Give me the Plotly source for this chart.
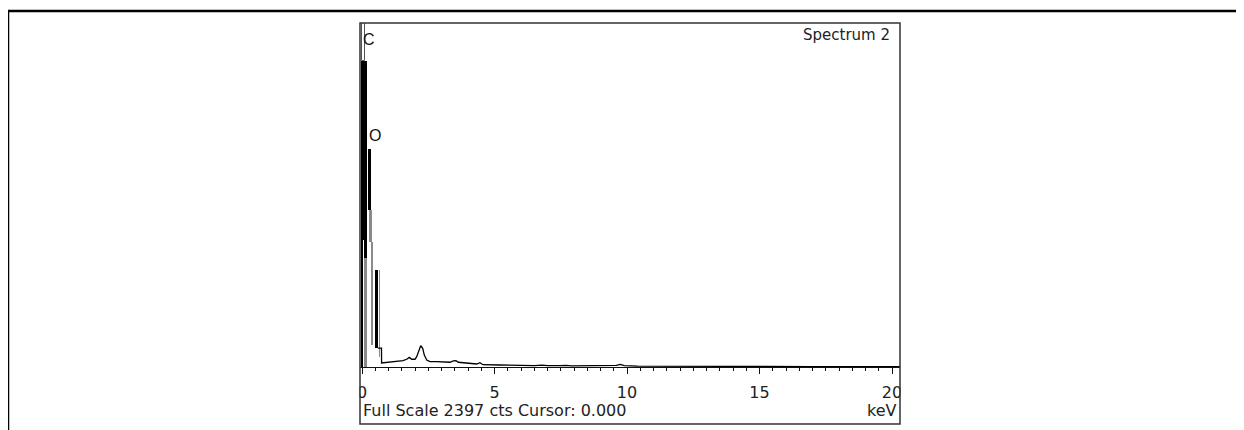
import plotly.graph_objects as go

# ---------------- data ----------------
full_scale_cts = 2397
spectrum_name = "Spectrum 2"
cursor_kev = "0.000"

# low-energy peak cluster drawn as vertical strokes (keV edges, count limits)
dark_left_kev  = [-0.015, 0.045, 0.094, 0.226, 0.491]
dark_right_kev = [0.045, 0.189, 0.189, 0.358, 0.604]
dark_low_cts   = [0, 882, 757, 1091, 132]
dark_high_cts  = [2133, 2133, 882, 1522, 674]

grey_left_kev  = [0.087, 0.264, 0.377, 0.642]
grey_right_kev = [0.170, 0.377, 0.426, 0.679]
grey_low_cts   = [0, 870, 150, 69]
grey_high_cts  = [757, 1091, 870, 674]

c_top_left_kev, c_top_right_kev = [0.0075], [0.113]
c_top_low_cts, c_top_high_cts = [2133], [2397]

# continuum (keV, counts)
cont_kev = [0.60, 0.735, 0.74, 0.98, 1.245, 1.434, 1.547, 1.687, 1.785, 1.875, 2.0,
            2.064, 2.151, 2.215, 2.291, 2.351, 2.442, 2.566, 2.819, 3.057, 3.321,
            3.445, 3.547, 3.634, 3.951, 4.328, 4.45, 4.566, 5.2, 5.6, 6.0, 6.5,
            6.8, 7.0, 7.5, 7.7, 7.9, 8.3, 8.5, 8.7, 9.2, 9.6, 9.75, 9.9, 10.4,
            11.0, 11.45, 11.7, 12.5, 13.5, 15.0, 17.0, 20.3]
cont_cts = [132, 132, 28, 33, 37, 42, 44, 54, 67, 54, 54,
            72, 118, 148, 130, 83, 49, 37, 37, 33, 33,
            42, 44, 33, 26, 21, 30, 16, 14, 12, 11, 10,
            13, 9, 9, 12, 8, 8, 11, 7, 7, 12, 18, 10, 6,
            6, 9, 5, 5, 4, 4, 3, 2]

# element labels (keV, counts)
elem_names = ["C", "O"]
elem_kev = [0.264, 0.509]
elem_cts = [2279, 1615]

x_tick_vals = [0, 5, 10, 15, 20]
x_tick_text = ["0", "5", "10", "15", "20"]
x_range = [-0.0755, 20.302]

# ---------------- figure ----------------
def strokes(left, right, low, high):
    centers = [(a + b) / 2 for a, b in zip(left, right)]
    widths = [b - a for a, b in zip(left, right)]
    heights = [h - l for l, h in zip(low, high)]
    return centers, widths, heights

fig = go.Figure()

c, w, h = strokes(grey_left_kev, grey_right_kev, grey_low_cts, grey_high_cts)
fig.add_trace(go.Bar(x=c, y=h, base=grey_low_cts, width=w,
                     marker=dict(color="#8a8a8a", line=dict(width=0)), showlegend=False))
c, w, h = strokes(dark_left_kev, dark_right_kev, dark_low_cts, dark_high_cts)
fig.add_trace(go.Bar(x=c, y=h, base=dark_low_cts, width=w,
                     marker=dict(color="#000000", line=dict(width=0)), showlegend=False))
c, w, h = strokes(c_top_left_kev, c_top_right_kev, c_top_low_cts, c_top_high_cts)
fig.add_trace(go.Bar(x=c, y=h, base=c_top_low_cts, width=w,
                     marker=dict(color="#ffffff", line=dict(width=1, color="#555555")),
                     showlegend=False))

fig.add_trace(go.Scatter(x=cont_kev, y=cont_cts, mode="lines",
                         line=dict(color="#000000", width=1.3), showlegend=False))

for name, k, ct in zip(elem_names, elem_kev, elem_cts):
    fig.add_annotation(x=k, y=ct, text=name, showarrow=False, xref="x", yref="y",
                       font=dict(family="Liberation Sans", size=16, color="#111111"),
                       xanchor="center", yanchor="middle")

# page has an 8 px body margin: work in page pixels, convert to figure
OFF = 8
W, H = 1244 - OFF, 430 - OFF
PL, PR, PT, PB = 360, 900, 23, 367       # plot area in page pixels
L, R, T, B = PL - OFF, W - (PR - OFF), PT - OFF, H - (PB - OFF)
pw, ph = PR - PL, PB - PT

def px(xp):
    return (xp - PL) / pw

def py(yp):
    return (PB - yp) / ph

fig.add_annotation(x=px(892), y=py(35), xref="paper", yref="paper", text=spectrum_name,
                   showarrow=False, xanchor="right", yanchor="middle",
                   font=dict(family="DejaVu Sans", size=15, color="#222222"))
fig.add_annotation(x=px(361), y=py(410), xref="paper", yref="paper",
                   text=f"Full Scale {full_scale_cts} cts Cursor: {cursor_kev}",
                   showarrow=False, xanchor="left", yanchor="middle",
                   font=dict(family="DejaVu Sans", size=16, color="#222222"))
fig.add_annotation(x=px(899), y=py(410), xref="paper", yref="paper", text="keV",
                   showarrow=False, xanchor="right", yanchor="middle",
                   font=dict(family="DejaVu Sans", size=16, color="#222222"))

shapes = [
    # masks emulating the frame clipping of edge tick labels
    dict(type="rect", xref="paper", yref="paper", x0=px(344), x1=px(359.5),
         y0=py(404), y1=py(375), fillcolor="white", line=dict(width=0), layer="above"),
    dict(type="rect", xref="paper", yref="paper", x0=px(900.5), x1=px(916),
         y0=py(404), y1=py(375), fillcolor="white", line=dict(width=0), layer="above"),
    # inner frame
    dict(type="rect", xref="paper", yref="paper", x0=0, x1=1, y0=py(424), y1=py(23),
         line=dict(color="#333333", width=1.5), fillcolor="rgba(0,0,0,0)", layer="above"),
    # outer page frame
    dict(type="line", xref="paper", yref="paper", x0=px(8), x1=px(1250), y0=py(11), y1=py(11),
         line=dict(color="black", width=2.5), layer="above"),
    dict(type="line", xref="paper", yref="paper", x0=px(8), x1=px(8), y0=py(11), y1=py(440),
         line=dict(color="black", width=2.5), layer="above"),
]

fig.update_layout(
    width=W, height=H, margin=dict(l=L, r=R, t=T, b=B, pad=0),
    paper_bgcolor="white", plot_bgcolor="white",
    barmode="overlay", bargap=0,
    showlegend=False, shapes=shapes,
    xaxis=dict(range=x_range, showgrid=False, zeroline=False, showline=True,
               linecolor="#111111", linewidth=1, ticks="outside", ticklen=6,
               tickwidth=1, tickcolor="#111111", tickvals=x_tick_vals,
               ticktext=x_tick_text, ticklabelstandoff=5,
               tickfont=dict(family="DejaVu Sans", size=16, color="#222222"),
               minor=dict(dtick=0.5, tick0=0, ticks="outside", ticklen=3,
                          tickwidth=1, tickcolor="#111111", showgrid=False),
               fixedrange=True),
    yaxis=dict(range=[0, full_scale_cts], visible=False, showgrid=False,
               zeroline=False, fixedrange=True),
)

fig.write_html("out.html")
